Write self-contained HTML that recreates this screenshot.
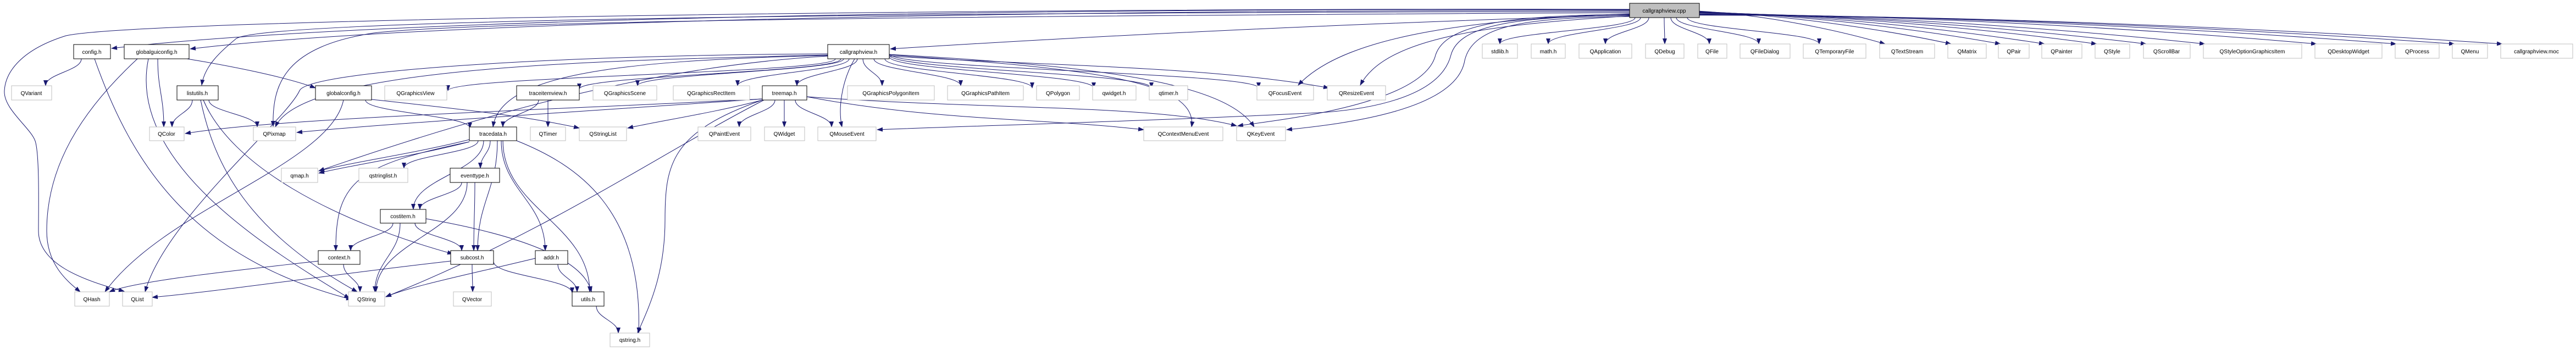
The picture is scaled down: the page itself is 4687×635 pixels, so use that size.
<!DOCTYPE html>
<html><head><meta charset="utf-8"><style>
html,body{margin:0;padding:0;background:#fff;overflow:hidden}
svg{display:block}
text{font-family:"Liberation Sans",sans-serif;font-size:10px;fill:#000}
</style></head><body>
<svg id="g" width="4687" height="635" viewBox="0 0 4687 635" xmlns="http://www.w3.org/2000/svg">
<defs><marker id="a" markerWidth="11" markerHeight="8" refX="10" refY="4" orient="auto" markerUnits="userSpaceOnUse"><path d="M0,0L11,4L0,8z" fill="#191970"/></marker></defs>
<g id="edges" fill="none" stroke="#191970" stroke-width="1"></g>
</svg>
<svg width="4687" height="635" style="position:absolute;left:0;top:0" xmlns="http://www.w3.org/2000/svg">
<g fill="#fff" stroke="#bfbfbf" stroke-width="1">
<rect x="2965" y="6" width="127" height="26" fill="#bfbfbf" stroke="#000"/>
<rect x="134" y="81" width="67" height="26" stroke="#000"/>
<rect x="226" y="81" width="118" height="26" stroke="#000"/>
<rect x="1506" y="81" width="112" height="26" stroke="#000"/>
<rect x="2697" y="80" width="64" height="26"/>
<rect x="2786" y="80" width="62" height="26"/>
<rect x="2873" y="80" width="96" height="26"/>
<rect x="2994" y="80" width="70" height="26"/>
<rect x="3089" y="80" width="53" height="26"/>
<rect x="3166" y="80" width="91" height="26"/>
<rect x="3281" y="80" width="114" height="26"/>
<rect x="3420" y="80" width="100" height="26"/>
<rect x="3544" y="80" width="70" height="26"/>
<rect x="3636" y="80" width="56" height="26"/>
<rect x="3715" y="80" width="73" height="26"/>
<rect x="3812" y="80" width="63" height="26"/>
<rect x="3900" y="80" width="85" height="26"/>
<rect x="4009" y="80" width="179" height="26"/>
<rect x="4212" y="80" width="122" height="26"/>
<rect x="4358" y="80" width="80" height="26"/>
<rect x="4462" y="80" width="64" height="26"/>
<rect x="4550" y="80" width="131" height="26"/>
<rect x="21" y="156" width="73" height="26"/>
<rect x="322" y="156" width="75" height="26" stroke="#000"/>
<rect x="574" y="156" width="102" height="26" stroke="#000"/>
<rect x="700" y="156" width="113" height="26"/>
<rect x="940" y="156" width="114" height="26" stroke="#000"/>
<rect x="1079" y="156" width="116" height="26"/>
<rect x="1225" y="156" width="139" height="26"/>
<rect x="1387" y="156" width="81" height="26" stroke="#000"/>
<rect x="1542" y="156" width="158" height="26"/>
<rect x="1724" y="156" width="138" height="26"/>
<rect x="1886" y="156" width="78" height="26"/>
<rect x="1988" y="156" width="79" height="26"/>
<rect x="2091" y="156" width="70" height="26"/>
<rect x="2287" y="156" width="103" height="26"/>
<rect x="2415" y="156" width="106" height="26"/>
<rect x="272" y="231" width="63" height="25"/>
<rect x="461" y="231" width="77" height="25"/>
<rect x="854" y="231" width="86" height="25" stroke="#000"/>
<rect x="965" y="231" width="64" height="25"/>
<rect x="1054" y="231" width="86" height="25"/>
<rect x="1270" y="231" width="96" height="25"/>
<rect x="1391" y="231" width="73" height="25"/>
<rect x="1488" y="231" width="106" height="25"/>
<rect x="2081" y="231" width="144" height="25"/>
<rect x="2250" y="231" width="89" height="25"/>
<rect x="512" y="306" width="66" height="26"/>
<rect x="653" y="306" width="89" height="26"/>
<rect x="819" y="306" width="90" height="26" stroke="#000"/>
<rect x="692" y="381" width="83" height="25" stroke="#000"/>
<rect x="579" y="456" width="76" height="25" stroke="#000"/>
<rect x="820" y="456" width="78" height="25" stroke="#000"/>
<rect x="974" y="456" width="59" height="25" stroke="#000"/>
<rect x="136" y="531" width="63" height="26"/>
<rect x="223" y="531" width="54" height="26"/>
<rect x="634" y="531" width="66" height="26"/>
<rect x="825" y="531" width="69" height="26"/>
<rect x="1041" y="531" width="58" height="26" stroke="#000"/>
<rect x="1110" y="606" width="72" height="25"/>
</g>
<g text-anchor="middle" font-family="Liberation Sans, sans-serif" font-size="10">
<text x="3028" y="23">callgraphview.cpp</text>
<text x="167" y="98">config.h</text>
<text x="285" y="98">globalguiconfig.h</text>
<text x="1562" y="98">callgraphview.h</text>
<text x="2729" y="97">stdlib.h</text>
<text x="2817" y="97">math.h</text>
<text x="2921" y="97">QApplication</text>
<text x="3029" y="97">QDebug</text>
<text x="3115" y="97">QFile</text>
<text x="3211" y="97">QFileDialog</text>
<text x="3338" y="97">QTemporaryFile</text>
<text x="3470" y="97">QTextStream</text>
<text x="3579" y="97">QMatrix</text>
<text x="3664" y="97">QPair</text>
<text x="3751" y="97">QPainter</text>
<text x="3843" y="97">QStyle</text>
<text x="3942" y="97">QScrollBar</text>
<text x="4098" y="97">QStyleOptionGraphicsItem</text>
<text x="4273" y="97">QDesktopWidget</text>
<text x="4398" y="97">QProcess</text>
<text x="4494" y="97">QMenu</text>
<text x="4615" y="97">callgraphview.moc</text>
<text x="57" y="173">QVariant</text>
<text x="359" y="173">listutils.h</text>
<text x="625" y="173">globalconfig.h</text>
<text x="756" y="173">QGraphicsView</text>
<text x="997" y="173">traceitemview.h</text>
<text x="1137" y="173">QGraphicsScene</text>
<text x="1294" y="173">QGraphicsRectItem</text>
<text x="1427" y="173">treemap.h</text>
<text x="1621" y="173">QGraphicsPolygonItem</text>
<text x="1793" y="173">QGraphicsPathItem</text>
<text x="1925" y="173">QPolygon</text>
<text x="2027" y="173">qwidget.h</text>
<text x="2126" y="173">qtimer.h</text>
<text x="2338" y="173">QFocusEvent</text>
<text x="2468" y="173">QResizeEvent</text>
<text x="303" y="247">QColor</text>
<text x="499" y="247">QPixmap</text>
<text x="897" y="247">tracedata.h</text>
<text x="997" y="247">QTimer</text>
<text x="1097" y="247">QStringList</text>
<text x="1318" y="247">QPaintEvent</text>
<text x="1427" y="247">QWidget</text>
<text x="1541" y="247">QMouseEvent</text>
<text x="2153" y="247">QContextMenuEvent</text>
<text x="2294" y="247">QKeyEvent</text>
<text x="545" y="323">qmap.h</text>
<text x="697" y="323">qstringlist.h</text>
<text x="864" y="323">eventtype.h</text>
<text x="733" y="397">costitem.h</text>
<text x="617" y="472">context.h</text>
<text x="859" y="472">subcost.h</text>
<text x="1003" y="472">addr.h</text>
<text x="167" y="548">QHash</text>
<text x="250" y="548">QList</text>
<text x="667" y="548">QString</text>
<text x="859" y="548">QVector</text>
<text x="1070" y="548">utils.h</text>
<text x="1146" y="622">qstring.h</text>
</g>
</svg>
<script>
var NS="http://www.w3.org/2000/svg";
var g=document.getElementById('edges');
function P(d){var p=document.createElementNS(NS,'path');p.setAttribute('d',d);p.setAttribute('marker-end','url(#a)');g.appendChild(p);}
function E(x1,y1,x2,y2){var m=(y2-y1)*0.45;P('M'+x1+','+y1+' C'+x1+','+(y1+m)+' '+x2+','+(y2-m)+' '+x2+','+y2);}
[[2729,2975],[2817,2985],[2921,3000],[3029,3028],[3110,3040],[3200,3050],[3310,3070],[3430,3092],[3550,3092],[3640,3092],[3720,3092],[3815,3092],[3905,3092],[4012,3092],[4215,3092],[4360,3092],[4466,3092],[4553,3092]].forEach(function(t){
 if(t[1]==3092){P('M3092,'+(20+Math.min(10,(t[0]-3400)/150))+' C'+(3092+(t[0]-3092)*0.4)+',28 '+(t[0]-(t[0]-3092)*0.2)+',60 '+t[0]+',80');}
 else E(t[1],32,t[0],80);
});
P('M2965,27 C2400,45 2000,65 1620,89');
P('M2965,18 C2000,14 700,30 203,88');
P('M2965,19 C2000,18 800,35 346,89');
P('M2965,21 C2000,22 500,30 430,70 C400,95 372,120 367,155');
P('M2965,17 C1800,14 250,35 120,65 C40,90 10,130 8,165 C6,200 60,235 65,260 C72,290 70,380 70,420 C70,480 150,510 226,530');
P('M2965,23 C2000,28 900,35 680,60 C520,85 495,150 497,230');
P('M2965,25 C2700,35 2450,60 2362,155');
P('M2965,29 C2700,45 2520,70 2475,155');
P('M2965,30 C2780,32 2680,45 2665,110 C2650,200 2450,225 2341,236');
P('M2965,28 C2760,30 2655,45 2640,100 C2620,180 2480,200 2400,205 C2100,220 1800,228 1596,236');
P('M2965,26 C2740,28 2630,45 2612,100 C2590,190 2330,218 2252,229');
E(1520,107,815,165);E(1530,107,1054,162);E(1535,107,1160,156);E(1545,107,1342,156);E(1560,107,1450,156);
E(1570,107,1605,156);E(1590,107,1748,156);E(1610,107,1878,160);E(1618,103,1990,160);E(1618,100,2095,160);E(1618,98,2290,160);
P('M1618,102 C1900,120 2200,120 2418,160');
P('M1555,107 C1530,150 1525,200 1532,231');
P('M1618,100 C2000,125 2180,150 2168,231');
P('M1618,99 C2000,120 2230,150 2282,231');
P('M1506,100 C1100,110 550,120 501,231');
P('M1506,102 C1200,120 900,200 580,311');
P('M1506,101 C1100,110 910,140 897,231');
P('M1506,98 C1000,100 560,130 545,165 C520,220 300,400 264,531');
P('M1387,180 C1000,200 500,215 337,243');
P('M1387,180 C1100,200 700,225 540,241');
P('M1387,182 C1300,205 1200,220 1142,233');
P('M1387,182 C1220,240 1210,300 1210,400 C1210,500 1180,560 1160,606');
P('M1390,182 C1200,280 1000,420 702,540');
E(1410,182,1345,231);E(1427,182,1427,231);E(1447,182,1513,231);
P('M1468,176 C1700,220 1900,215 2081,236');
P('M1468,176 C1800,200 2100,190 2250,229');
P('M250,107 C150,200 85,300 85,420 C85,480 120,510 146,531');
P('M270,107 C230,300 500,460 636,543');
E(287,107,298,231);
P('M340,107 C420,120 520,140 574,160');
E(148,107,83,156);
P('M172,107 C240,300 350,470 640,545');
E(350,182,313,231);E(380,182,468,231);
P('M365,182 C390,300 450,420 650,531');
P('M370,182 C420,300 600,400 824,462');
P('M625,182 C600,300 300,380 191,531');
E(665,182,855,233);
P('M668,180 C850,200 950,210 1054,233');
E(980,182,915,231);E(997,182,997,231);
P('M854,254 C750,280 640,295 580,311');P('M854,258 C750,285 640,300 580,315');
P('M854,258 C650,300 610,330 611,456');
E(870,256,735,306);E(880,256,752,381);E(892,256,874,306);E(905,256,869,456);E(912,256,992,456);E(915,256,1073,531);
P('M940,256 C1050,300 1170,380 1162,606');
E(840,332,764,381);E(864,332,862,456);E(850,332,684,531);
E(715,406,638,456);E(728,406,682,531);E(755,406,840,456);
P('M775,398 C900,420 1060,460 1076,531');
P('M579,475 C450,490 250,510 199,531');E(625,481,655,531);
P('M820,475 C600,500 400,530 277,541');E(859,481,860,531);E(898,476,1041,533);
P('M974,470 C850,500 750,520 702,540');E(1015,481,1050,531);
E(1085,557,1125,606);
</script>
</body></html>
